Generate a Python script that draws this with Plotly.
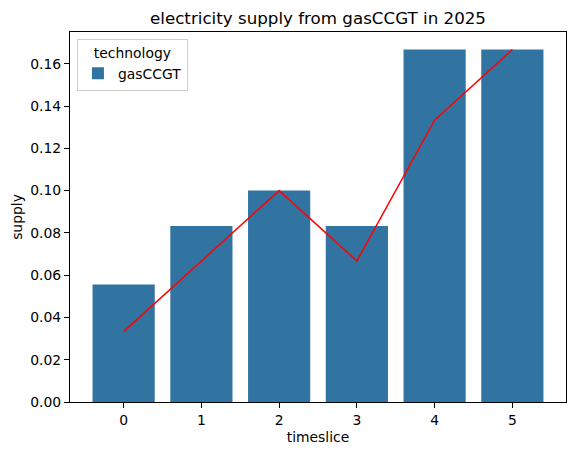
import plotly.graph_objects as go

timeslices = [0, 1, 2, 3, 4, 5]
supply = [0.0556, 0.0833, 0.1000, 0.0833, 0.1667, 0.1667]
line_vals = [0.0333, 0.0667, 0.1000, 0.0667, 0.1333, 0.1667]
yticks = [0.00, 0.02, 0.04, 0.06, 0.08, 0.10, 0.12, 0.14, 0.16]

FONT = "DejaVu Sans"
FS = 13.9

fig = go.Figure()
fig.add_trace(go.Bar(x=timeslices, y=supply, name="gasCCGT", marker_color="#3274a1",
                     marker_line_width=0, width=0.8, showlegend=True))
fig.add_trace(go.Scatter(x=timeslices, y=line_vals, mode="lines",
                         line=dict(color="red", width=1.5), showlegend=False))

fig.update_layout(
    width=576, height=455,
    margin=dict(l=70, r=10, t=32, b=53),
    paper_bgcolor="white", plot_bgcolor="white",
    font=dict(family=FONT, size=FS, color="black"),
    title=dict(text="electricity supply from gasCCGT in 2025", x=0.5, xref="paper",
               xanchor="center", y=1 - 18/455, yanchor="middle",
               font=dict(size=16.7, family=FONT, color="black")),
    xaxis=dict(range=[-0.69, 5.69], tickmode="array", tickvals=timeslices,
               ticktext=[str(t) for t in timeslices],
               showline=True, linecolor="black", linewidth=1, mirror=True,
               ticks="outside", ticklen=5, tickcolor="black", showgrid=False, zeroline=False,
               title=dict(text="timeslice", standoff=5, font=dict(size=FS))),
    yaxis=dict(range=[0, 0.175], tickmode="array", tickvals=yticks,
               ticktext=[f"{v:.2f}" for v in yticks],
               showline=True, linecolor="black", linewidth=1, mirror=True,
               ticks="outside", ticklen=5, tickcolor="black", showgrid=False, zeroline=False,
               title=dict(text="supply", standoff=4, font=dict(size=FS))),
    legend=dict(title=dict(text="technology", side="top center", font=dict(size=FS)),
                x=0.014, y=0.982, xanchor="left", yanchor="top",
                bgcolor="white", bordercolor="#d0d0d0", borderwidth=1,
                entrywidth=72, entrywidthmode="pixels",
                font=dict(size=FS)),
    bargap=0.2,
)

fig.write_html("out.html")
